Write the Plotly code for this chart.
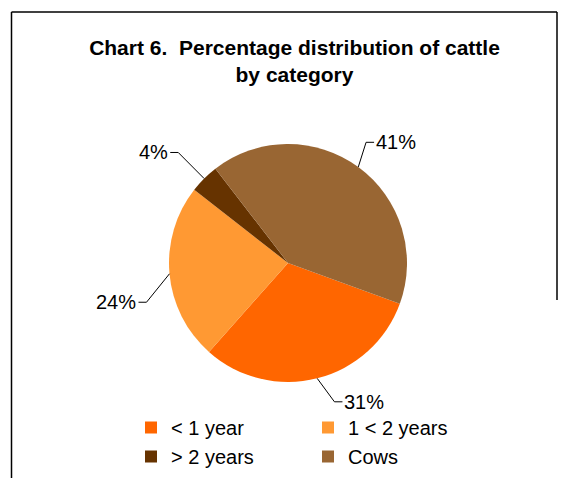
import math
import plotly.graph_objects as go

categories = ["< 1 year", "1 < 2 years", "> 2 years", "Cows"]
shares = [31, 24, 4, 41]
share_labels = ["31%", "24%", "4%", "41%"]
colors = ["#FF6600", "#FF9933", "#663300", "#996633"]

# label placement: turn (degrees) from the slice mid-angle and distance (x radius)
label_turn = [-4.3, -10.3, 0, -3.3]
label_dist = [1.23, 1.234, 1.309, 1.208]

# the page puts the figure 8px in from the top-left corner
OFF = 8
W, H = 574 - OFF, 478 - OFF
L, R = 100, 100
PW = W - L - R
ROTATION = 110
CX, CY, RAD = 288, 263, 119


def px_x(px):
    return (px - OFF - L) / PW


def px_y(py):
    return 1 - (py - OFF) / H


fig = go.Figure(
    go.Pie(
        labels=categories,
        values=shares,
        sort=False,
        direction="clockwise",
        rotation=ROTATION,
        marker=dict(colors=colors, line=dict(width=0)),
        textinfo="none",
        hoverinfo="label+percent",
        domain=dict(
            x=[px_x(CX - RAD), px_x(CX + RAD)],
            y=[px_y(CY + RAD), px_y(CY - RAD)],
        ),
    )
)

# leader lines and labels, placed from the slice mid-angles
total = sum(shares)
start = ROTATION
shapes = []
annotations = []
for val, lab, turn, dist in zip(shares, share_labels, label_turn, label_dist):
    mid_deg = start + 360 * val / total / 2
    start += 360 * val / total
    mid = math.radians(mid_deg)
    ex, ey = CX + RAD * math.sin(mid), CY - RAD * math.cos(mid)
    elb = math.radians(mid_deg + turn)
    bx, by = CX + dist * RAD * math.sin(elb), CY - dist * RAD * math.cos(elb)
    side = 1 if bx >= CX else -1
    tx = bx + side * 8
    path = "M {},{} L {},{} L {},{}".format(
        px_x(ex), px_y(ey), px_x(bx), px_y(by), px_x(tx), px_y(by))
    shapes.append(dict(type="path", path=path, xref="paper", yref="paper",
                       line=dict(color="#000000", width=1)))
    annotations.append(dict(
        text=lab, x=px_x(tx), y=px_y(by), xref="paper", yref="paper",
        xanchor="left" if side > 0 else "right", yanchor="middle",
        showarrow=False, font=dict(size=20, color="#000000"),
    ))

# chart frame
frame = dict(type="line", xref="paper", yref="paper",
             line=dict(color="#000000", width=1.5))
shapes.append(dict(frame, x0=px_x(11.5), x1=px_x(11.5), y0=px_y(12), y1=px_y(490)))
shapes.append(dict(frame, x0=px_x(11.5), x1=px_x(557), y0=px_y(12), y1=px_y(12)))
shapes.append(dict(frame, x0=px_x(557), x1=px_x(557), y0=px_y(12), y1=px_y(300)))

fig.update_layout(
    width=W,
    height=H,
    margin=dict(l=L, r=R, t=0, b=0),
    paper_bgcolor="white",
    plot_bgcolor="white",
    font=dict(family="Arial, Liberation Sans, sans-serif", size=20, color="#000000"),
    title=dict(
        text="Chart 6.\u00a0 Percentage distribution of cattle<br>by category",
        x=px_x(294.5), xref="paper", xanchor="center",
        y=px_y(55), yref="container", yanchor="top",
        font=dict(size=21, weight="bold", color="#000000"),
    ),
    showlegend=True,
    legend=dict(
        orientation="h",
        x=px_x(131), xanchor="left",
        y=px_y(408), yanchor="top",
        entrywidth=132,
        traceorder="normal",
        font=dict(size=20, color="#000000"),
    ),
    shapes=shapes,
    annotations=annotations,
)

fig.write_html("out.html")
